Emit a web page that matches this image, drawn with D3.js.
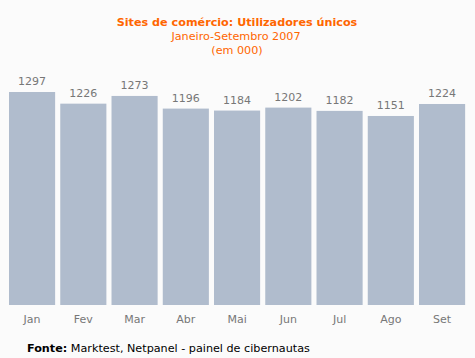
<!DOCTYPE html>
<html><head><meta charset="utf-8">
<script src="https://cdn.jsdelivr.net/npm/d3@7"></script>
<style>html,body{margin:0;padding:0;background:#fbfbfb;}svg{display:block;}</style>
</head><body>
<script>
const months = ["Jan","Fev","Mar","Abr","Mai","Jun","Jul","Ago","Set"];
const visitors = [1297,1226,1273,1196,1184,1202,1182,1151,1224];
const titleLines = ["Sites de comércio: Utilizadores únicos","Janeiro-Setembro 2007","(em 000)"];
const sourceLabel = "Fonte:";
const sourceText = " Marktest, Netpanel - painel de cibernautas";

const W = 475, H = 358;
const font = "Tahoma, 'DejaVu Sans', Verdana, sans-serif";
const svg = d3.select("body").append("svg").attr("width", W).attr("height", H);
svg.append("rect").attr("width", W).attr("height", H).attr("fill", "#fbfbfb");

const x = d3.scaleBand().domain(months).range([6.44, 467.7]).paddingInner(0.1).paddingOuter(0.05);
const y = d3.scaleLinear().domain([0, 1297]).range([305, 92]);

svg.append("text").attr("x", 237).attr("y", 26).attr("text-anchor", "middle")
  .attr("font-family", font).attr("font-size", 11.2).attr("font-weight", "bold").attr("fill", "#ff6600")
  .text(titleLines[0]);
svg.append("text").attr("x", 236).attr("y", 40).attr("text-anchor", "middle")
  .attr("font-family", font).attr("font-size", 11.2).attr("fill", "#ff6600").text(titleLines[1]);
svg.append("text").attr("x", 237).attr("y", 54).attr("text-anchor", "middle")
  .attr("font-family", font).attr("font-size", 11.2).attr("fill", "#ff6600").text(titleLines[2]);

const data = months.map((m, i) => ({m, v: visitors[i]}));
svg.selectAll("rect.bar").data(data).join("rect").attr("class", "bar")
  .attr("x", d => x(d.m)).attr("width", x.bandwidth())
  .attr("y", d => y(d.v)).attr("height", d => y(0) - y(d.v))
  .attr("fill", "#b0bccd");

svg.selectAll("text.val").data(data).join("text").attr("class", "val")
  .attr("x", d => x(d.m) + x.bandwidth() / 2).attr("y", d => y(d.v) - 7)
  .attr("text-anchor", "middle").attr("font-family", font).attr("font-size", 11).attr("fill", "#777")
  .text(d => d.v);

const xAxis = svg.append("g").attr("transform", `translate(0,${y(0)})`)
  .call(d3.axisBottom(x).tickSize(0).tickPadding(0));
xAxis.select(".domain").remove();
xAxis.selectAll("text").attr("dy", null).attr("y", 18).attr("font-family", font).attr("font-size", 11).attr("fill", "#777");

const src = svg.append("text").attr("x", 27).attr("y", 352).attr("font-family", font).attr("font-size", 11.2).attr("fill", "#000");
src.append("tspan").attr("font-weight", "bold").text(sourceLabel);
src.append("tspan").text(sourceText);
</script>
</body></html>
